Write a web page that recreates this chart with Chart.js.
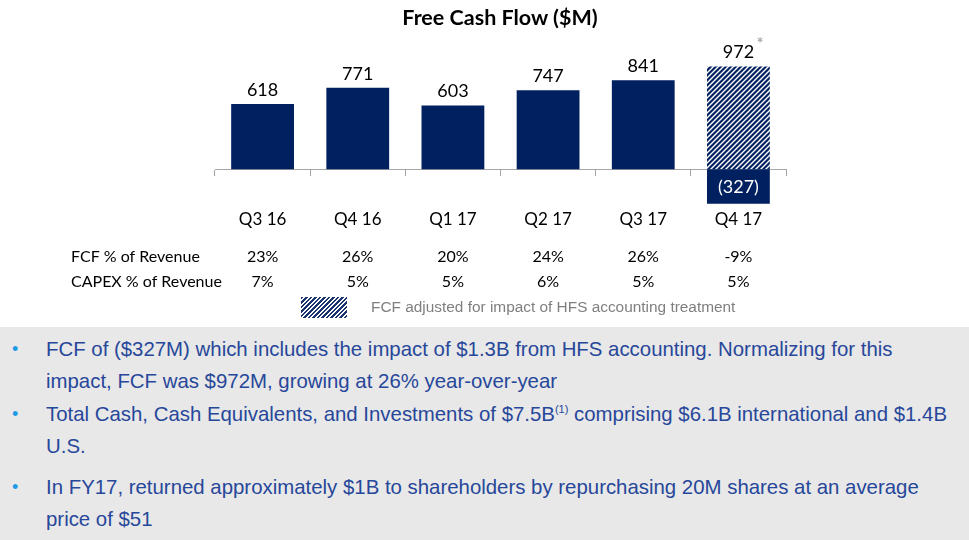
<!DOCTYPE html>
<html>
<head>
<meta charset="utf-8">
<script src="https://cdn.jsdelivr.net/npm/chart.js@4.4.0/dist/chart.umd.min.js"></script>
<style>
  body { margin: 0; width: 969px; height: 540px; background: #fff; position: relative; overflow: hidden; font-family: Lato, sans-serif; }
  #chart { position: absolute; left: 0; top: 0; }
  #title { position: absolute; left: 0; top: 4px; width: 1000px; text-align: center; font: bold 21.5px Lato, sans-serif; color: #000; }
  #legend { position: absolute; left: 301px; top: 297px; height: 21px; }
  #legend .swatch { position: absolute; left: 0; top: 0; width: 46px; height: 21px;
    background: repeating-linear-gradient(135deg, #1a3470 0 1.8px, #ffffff 1.8px 3.2px); }
  #legend .txt { position: absolute; left: 70px; top: 1px; white-space: nowrap; font: 15.4px "Liberation Sans", Arial, sans-serif; color: #7f7f7f; }
  #notes { position: absolute; left: 0; top: 327px; width: 969px; height: 213px; background: #e8e8e8;
    box-sizing: border-box; padding-top: 6px; font: 20.4px "Liberation Sans", Arial, sans-serif; color: #27479a; }
  #notes p { margin: 0; position: relative; padding-left: 46px; padding-right: 11px; line-height: 32px; }
  #notes p .b { position: absolute; left: 12px; top: 0; color: #1e9be6; font-size: 18px; }
  #notes sup { font-size: 11px; vertical-align: 8px; line-height: 0; }
</style>
</head>
<body>
<canvas id="chart" width="969" height="330"></canvas>
<div id="title">Free Cash Flow ($M)</div>
<div id="legend"><div class="swatch"></div><div class="txt">FCF adjusted for impact of HFS accounting treatment</div></div>
<div id="notes">
  <p><span class="b">•</span>FCF of ($327M) which includes the impact of $1.3B from HFS accounting. Normalizing for this impact, FCF was $972M, growing at 26% year-over-year</p>
  <p style="margin-top:1px"><span class="b">•</span>Total Cash, Cash Equivalents, and Investments of $7.5B<sup>(1)</sup> comprising $6.1B international and $1.4B U.S.</p>
  <p style="margin-top:9px"><span class="b">•</span>In FY17, returned approximately $1B to shareholders by repurchasing 20M shares at an average price of $51</p>
</div>
<script>
// data
const quarters = ['Q3 16', 'Q4 16', 'Q1 17', 'Q2 17', 'Q3 17', 'Q4 17'];
const fcfValues = [618, 771, 603, 747, 841, -327];
const adjustedFcf = [null, null, null, null, null, 972];
const fcfPctRevenue = ['23%', '26%', '20%', '24%', '26%', '-9%'];
const capexPctRevenue = ['7%', '5%', '5%', '6%', '5%', '5%'];

const navy = '#002060';

// hatch for the adjusted bar
function makeHatch() {
    const c = document.createElement('canvas');
    c.width = 5;
    c.height = 5;
    const g = c.getContext('2d');
    g.fillStyle = navy;
    g.fillRect(0, 0, 5, 5);
    g.strokeStyle = '#ffffff';
    g.lineWidth = 1.4;
    g.beginPath();
    g.moveTo(0, 5); g.lineTo(5, 0);
    g.moveTo(-1, 1); g.lineTo(1, -1);
    g.moveTo(4, 6); g.lineTo(6, 4);
    g.stroke();
    return g.createPattern(c, 'repeat');
}

// value labels + table rows under the axis
const labelsPlugin = {
    id: 'labels',
    afterDatasetsDraw(chart) {
        const ctx = chart.ctx;
        ctx.save();
        ctx.textAlign = 'center';
        ctx.textBaseline = 'middle';
        ctx.font = '18px Lato';
        chart.data.datasets.forEach((ds, di) => {
            chart.getDatasetMeta(di).data.forEach((bar, i) => {
                const v = ds.data[i];
                if (v == null) return;
                if (v < 0) {
                    ctx.fillStyle = '#ffffff';
                    ctx.fillText('(' + (-v) + ')', bar.x, (bar.y + bar.base) / 2 + 1);
                } else {
                    ctx.fillStyle = '#000000';
                    ctx.fillText(String(v), bar.x, bar.y - 14);
                    if (di === 1) {
                        const w = ctx.measureText(String(v)).width;
                        ctx.save();
                        ctx.font = '18px Lato';
                        ctx.fillStyle = '#9a9a9a';
                        ctx.fillText('*', bar.x + w / 2 + 6, bar.y - 22);
                        ctx.restore();
                    }
                }
            });
        });

        // FCF % / CAPEX % rows
        const x = chart.scales.x;
        ctx.font = '16px Lato';
        ctx.fillStyle = '#000000';
        ctx.textAlign = 'left';
        ctx.fillText('FCF % of Revenue', 71, 257);
        ctx.fillText('CAPEX % of Revenue', 71, 282);
        ctx.textAlign = 'center';
        quarters.forEach((q, i) => {
            ctx.fillText(fcfPctRevenue[i], x.getPixelForValue(i), 257);
            ctx.fillText(capexPctRevenue[i], x.getPixelForValue(i), 282);
        });
        ctx.restore();
    }
};

const ctx = document.getElementById('chart');

const chart = new Chart(ctx, {
    type: 'bar',
    data: {
        labels: quarters,
        datasets: [{
            label: 'FCF',
            data: fcfValues,
            backgroundColor: navy,
            borderWidth: 0
        },
        {
            label: 'FCF adjusted for impact of HFS accounting treatment',
            data: adjustedFcf,
            backgroundColor: makeHatch(),
            borderWidth: 0
        }]
    },
    options: {
        responsive: false,
        animation: false,
        devicePixelRatio: 1,
        layout: {
            padding: { left: 215, right: 183, top: 53, bottom: 126 }
        },
        datasets: {
            bar: { categoryPercentage: 1, barPercentage: 0.66 }
        },
        plugins: {
            legend: { display: false },
            tooltip: { enabled: false }
        },
        scales: {
            x: {
                stacked: true,
                position: { y: 0 },
                grid: { drawOnChartArea: false, drawTicks: true, tickLength: 6, color: '#a6a6a6', offset: true },
                border: { display: true, color: '#a6a6a6', width: 1 },
                ticks: { color: '#000000', font: { family: 'Lato', size: 17 }, padding: 34 }
            },
            y: {
                stacked: true,
                display: false,
                min: -330,
                max: 1100
            }
        }
    },
    plugins: [labelsPlugin]
});
</script>
</body>
</html>
